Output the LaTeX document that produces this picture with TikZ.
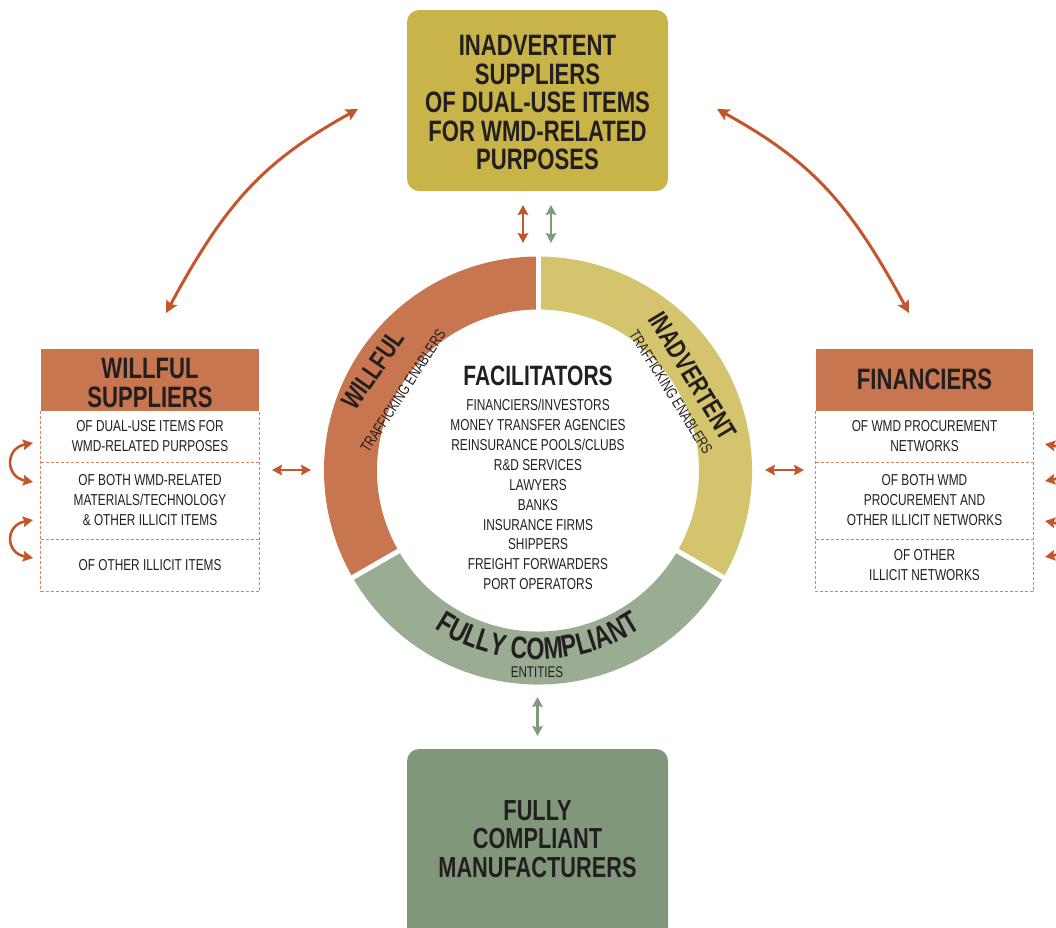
\documentclass[tikz,border=0pt]{standalone}
\usepackage{fontspec}
\setmainfont{Liberation Sans}[FakeStretch=0.75]
\usetikzlibrary{arrows.meta,calc,decorations.text}

\definecolor{ink}{HTML}{231F20}
\definecolor{willc}{HTML}{C8764F}
\definecolor{inadc}{HTML}{D4C46E}
\definecolor{greenring}{HTML}{9AAD93}
\definecolor{topc}{HTML}{C8B449}
\definecolor{botc}{HTML}{80977A}
\definecolor{arrc}{HTML}{C5562B}
\definecolor{garrc}{HTML}{7F9B7C}
\definecolor{dashc}{HTML}{D8845C}

\newcommand\setfs[2]{\fontsize{#1pt}{#2pt}\selectfont}

\begin{document}
\begin{tikzpicture}[x=1pt,y=-1pt,
  ttl/.style={font=\bfseries\setfs{29.5}{28.5}, align=center, text=ink, inner sep=0pt},
  itm/.style={font=\setfs{15.8}{20}, align=center, text=ink, inner sep=0pt},
  head/.style={fill=willc, minimum width=218pt, minimum height=62pt, inner sep=0pt},
  rowbox/.style={itm, minimum width=218pt},
  dashline/.style={draw=dashc, line width=1pt, dash pattern=on 3pt off 2pt},
  bigarr/.style={draw=arrc, line width=3pt,
    arrows={Stealth[length=12pt,width=12pt,inset=2pt]-Stealth[length=12pt,width=12pt,inset=2pt]}},
  smarr/.style={line width=2.6pt,
    arrows={Stealth[length=10pt,width=10.5pt,inset=1.5pt]-Stealth[length=10pt,width=10.5pt,inset=1.5pt]}},
  ringlbl/.style={font=\bfseries\setfs{27}{27}, text=ink, inner sep=0pt},
  ringsub/.style={font=\setfs{15.5}{15.5}, text=ink, inner sep=0pt}]
\useasboundingbox (0,0) rectangle (1056,927);

% ---------- top and bottom boxes ----------
\node[fill=topc, rounded corners=12pt, minimum width=261pt, minimum height=181pt, inner sep=0pt]
  (top) at (537.5,100.5) {};
\node[ttl] (toptext) at (537.5,102.5)
  {INADVERTENT\\SUPPLIERS\\OF DUAL-USE ITEMS\\FOR WMD-RELATED\\PURPOSES};
\fill[botc, rounded corners=12pt] (407,749) rectangle (668,960);
\node[ttl, font=\bfseries\setfs{29}{28.5}] (bottom) at (537.5,839)
  {FULLY\\COMPLIANT\\MANUFACTURERS};

% ---------- willful suppliers ----------
\node[head] (wh) at (150,380) {};
\node[ttl] (whtext) at (150,383) {WILLFUL\\SUPPLIERS};
\node[rowbox, minimum height=51pt] (w1) at (150,436.5) {OF DUAL-USE ITEMS FOR\\WMD-RELATED PURPOSES};
\node[rowbox, minimum height=77pt] (w2) at (150,500.5) {OF BOTH WMD-RELATED\\MATERIALS/TECHNOLOGY\\\& OTHER ILLICIT ITEMS};
\node[rowbox, minimum height=52pt] (w3) at (150,565) {OF OTHER ILLICIT ITEMS};
\draw[dashline] (wh.south west) |- (w3.south east) -- (wh.south east);
\draw[dashline] (w1.south west) -- (w1.south east);
\draw[dashline] (w2.south west) -- (w2.south east);

% ---------- financiers ----------
\node[head, minimum width=217pt] (fh) at (924.5,380) {};
\node[ttl] (fhtext) at (924.5,379) {FINANCIERS};
\node[rowbox, minimum width=217pt, minimum height=51pt] (f1) at (924.5,436.5) {OF WMD PROCUREMENT\\NETWORKS};
\node[rowbox, minimum width=217pt, minimum height=77pt] (f2) at (924.5,500.5) {OF BOTH WMD\\PROCUREMENT AND\\OTHER ILLICIT NETWORKS};
\node[rowbox, minimum width=217pt, minimum height=52pt] (f3) at (924.5,565.5) {OF OTHER\\ILLICIT NETWORKS};
\draw[dashline] (fh.south west) |- (f3.south east) -- (fh.south east);
\draw[dashline] (f1.south west) -- (f1.south east);
\draw[dashline] (f2.south west) -- (f2.south east);

% ---------- ring of trafficking enablers ----------
\coordinate (c) at (538,470.5);
\fill[willc] ($(c)+(-90:214)$) arc[start angle=-90, end angle=-210, radius=214]
  -- ($(c)+(-210:161)$) arc[start angle=-210, end angle=-90, radius=161] -- cycle;
\fill[greenring] ($(c)+(-210:214)$) arc[start angle=-210, end angle=-330, radius=214]
  -- ($(c)+(-330:161)$) arc[start angle=-330, end angle=-210, radius=161] -- cycle;
\fill[inadc] ($(c)+(-330:214)$) arc[start angle=-330, end angle=-450, radius=214]
  -- ($(c)+(-450:161)$) arc[start angle=-450, end angle=-330, radius=161] -- cycle;
\foreach \a in {-90,-210,-330}
  \draw[white, line width=5pt] ($(c)+(\a:150)$) -- ($(c)+(\a:225)$);

\node[ringlbl, rotate=55] (wl) at (373,370) {WILLFUL};
\node[ringsub, rotate=57] (wt) at (403,391) {TRAFFICKING ENABLERS};
\node[ringlbl, rotate=-59] (il) at (693,376) {INADVERTENT};
\node[ringsub, rotate=-58] (it) at (671,392) {TRAFFICKING ENABLERS};
\path[decorate, decoration={text along path, text align=center, text color=ink,
    text={|\bfseries\setfs{31}{31}|FULLY COMPLIANT}}]
  ($(c)+(-195:189)$) arc[start angle=-195, end angle=-345, radius=189];
\node[ringsub] (ent) at (537,672) {ENTITIES};

% ---------- facilitators ----------
\node[ttl, font=\bfseries\setfs{28}{28}] (fac) at (538,376) {FACILITATORS};
\node[itm, font=\setfs{15.8}{19.9}] (list) at (538,494.5)
  {FINANCIERS/INVESTORS\\MONEY TRANSFER AGENCIES\\REINSURANCE POOLS/CLUBS\\R\&D SERVICES\\LAWYERS\\BANKS\\INSURANCE FIRMS\\SHIPPERS\\FREIGHT FORWARDERS\\PORT OPERATORS};

% ---------- connectors ----------
\coordinate (tl1) at (358,109);  \coordinate (tl2) at (166,313);
\coordinate (tr1) at (717,109);  \coordinate (tr2) at (909,313);
\draw[bigarr] (tl1) .. controls (264,161) and (226,202) .. (tl2);
\draw[bigarr] (tr1) .. controls (811,161) and (849,202) .. (tr2);

\coordinate (ta1) at (523,205); \coordinate (ta2) at (523,243);
\coordinate (tg1) at (551,205); \coordinate (tg2) at (551,243);
\draw[smarr, draw=arrc] (ta1) -- (ta2);
\draw[smarr, draw=garrc] (tg1) -- (tg2);
\coordinate (bg1) at (537.5,697); \coordinate (bg2) at (537.5,736);
\draw[smarr, draw=garrc] (bg1) -- (bg2);
\coordinate (la1) at (272,470); \coordinate (la2) at (311,470);
\coordinate (ra1) at (765,470); \coordinate (ra2) at (804,470);
\draw[smarr, draw=arrc] (la1) -- (la2);
\draw[smarr, draw=arrc] (ra1) -- (ra2);

% curved links between the rows
\coordinate (lc1) at (33,443); \coordinate (lc2) at (33,482);
\coordinate (lc3) at (33,520); \coordinate (lc4) at (33,558);
\draw[smarr, draw=arrc] (lc1) .. controls (5,448) and (5,477) .. (lc2);
\draw[smarr, draw=arrc] (lc3) .. controls (5,525) and (5,553) .. (lc4);
\coordinate (rc1) at (1045,444); \coordinate (rc2) at (1045,481);
\coordinate (rc3) at (1045,521); \coordinate (rc4) at (1045,557);
\draw[smarr, draw=arrc] (rc1) .. controls (1073,449) and (1073,476) .. (rc2);
\draw[smarr, draw=arrc] (rc3) .. controls (1073,526) and (1073,552) .. (rc4);
\end{tikzpicture}
\end{document}
